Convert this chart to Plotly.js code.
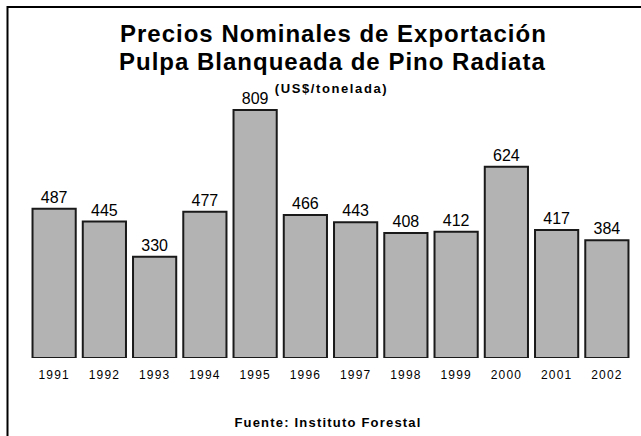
<!DOCTYPE html>
<html>
<head>
<meta charset="utf-8">
<script src="https://cdn.plot.ly/plotly-3.0.1.min.js"></script>
<style>
html, body { margin: 0; padding: 0; background: #fff; }
#chart { width: 641px; height: 436px; }
.xtick text { letter-spacing: 1.2px; }
g.annotation[data-index="0"] text, g.annotation[data-index="1"] text { letter-spacing: 1px; }
g.annotation[data-index="2"] text { letter-spacing: 1.6px; }
g.annotation[data-index="3"] text { letter-spacing: 1.2px; }
</style>
</head>
<body>
<div id="chart"></div>
<script>
const years = ['1991','1992','1993','1994','1995','1996','1997','1998','1999','2000','2001','2002'];
const prices = [487, 445, 330, 477, 809, 466, 443, 408, 412, 624, 417, 384];

const W = 641, H = 436;
const M = { l: 29, r: 9, t: 82, b: 78 };
const pw = W - M.l - M.r, ph = H - M.t - M.b;
const px = x => (x - M.l) / pw;
const py = y => (H - M.b - y) / ph;

const font = 'Liberation Sans, Arial, sans-serif';

const trace = {
  type: 'bar',
  x: years,
  y: prices,
  marker: { color: '#b3b3b3', line: { color: '#1a1a1a', width: 2 } },
  width: 0.86,
  text: prices.map(String),
  textposition: 'outside',
  textfont: { family: font, size: 16, color: '#000' },
  cliponaxis: false,
  hoverinfo: 'none'
};

const ann = (text, x, y, size) => ({
  text, xref: 'paper', yref: 'paper', x: px(x), y: py(y),
  xanchor: 'center', yanchor: 'middle', showarrow: false,
  font: { family: font, size, color: '#000' }
});

const layout = {
  width: W, height: H,
  margin: M,
  paper_bgcolor: '#fff',
  plot_bgcolor: '#fff',
  showlegend: false,
  font: { family: font, color: '#000' },
  xaxis: {
    type: 'category',
    showgrid: false, zeroline: false, showline: false,
    ticks: '', tickfont: { family: font, size: 12, color: '#000' },
    ticklabelstandoff: 8
  },
  yaxis: {
    range: [0, 900],
    showgrid: false, zeroline: false, showline: false,
    showticklabels: false, ticks: ''
  },
  annotations: [
    ann('<b>Precios Nominales de Exportación</b>', 333, 33, 24),
    ann('<b>Pulpa Blanqueada de Pino Radiata</b>', 332, 62, 24),
    ann('<b>(US$/tonelada)</b>', 331, 88, 13),
    ann('<b>Fuente: Instituto Forestal</b>', 328, 422, 13)
  ],
  shapes: [
    { type: 'line', xref: 'paper', yref: 'paper', x0: px(7), x1: px(641), y0: py(7), y1: py(7),
      line: { color: '#000', width: 2 } },
    { type: 'line', xref: 'paper', yref: 'paper', x0: px(7.5), x1: px(7.5), y0: py(6), y1: py(436),
      line: { color: '#000', width: 2 } }
  ]
};

Plotly.newPlot('chart', [trace], layout, { displayModeBar: false, staticPlot: true });
</script>
</body>
</html>
